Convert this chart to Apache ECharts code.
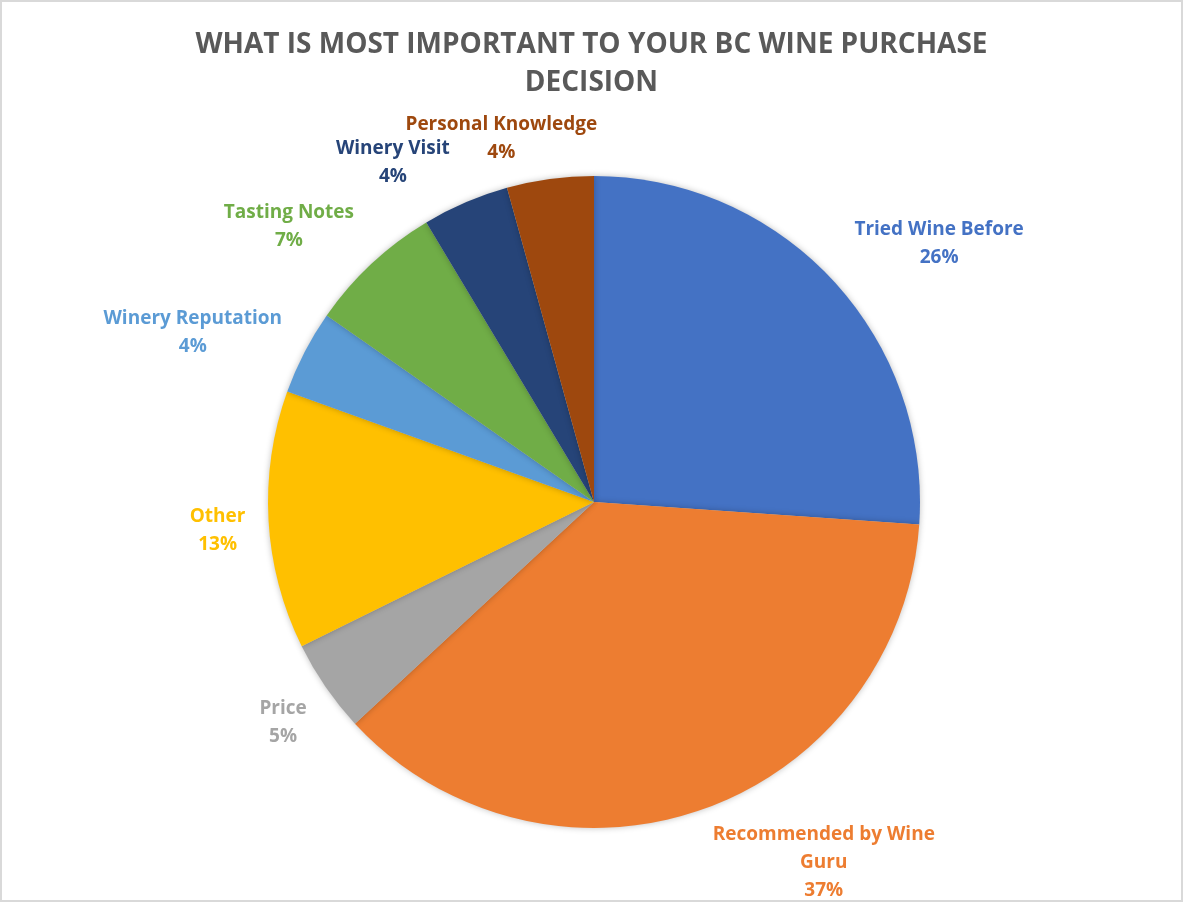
<!DOCTYPE html>
<html>
<head>
<meta charset="utf-8">
<script src="https://cdn.jsdelivr.net/npm/echarts@6/dist/echarts.min.js"></script>
<style>
html,body{margin:0;padding:0;background:#fff;}
#chart{width:1183px;height:902px;box-sizing:border-box;border:2px solid #d9d9d9;}
</style>
</head>
<body>
<div id="chart"></div>
<script>
/****
 * 数据
 */
var chartTitle = "WHAT IS MOST IMPORTANT TO YOUR BC WINE PURCHASE\nDECISION";
var categories = ["Tried Wine Before", "Recommended by Wine\nGuru", "Price", "Other",
	"Winery Reputation", "Tasting Notes", "Winery Visit", "Personal Knowledge"];
var shares = [26.1, 37.0, 4.6, 12.8, 4.2, 6.7, 4.3, 4.3];
var sliceColors = ["#4472C4", "#ED7D31", "#A5A5A5", "#FFC000",
	"#5B9BD5", "#70AD47", "#264478", "#9E480E"];

// 标签离饼边的距离 (px) 和微调偏移
var labelGap = [105, 85, 54, 52, 110, 86, 70, 50];
var labelShift = [[25, 36], [88, -27], [7, 5], [6, 7], [-9, 31], [-19, 26], [-40, 25], [-37, 9]];

function buildData(){
	var list = [];
	for (var i = 0; i < categories.length; i++) {
		list.push({
			name: categories[i],
			value: shares[i],
			itemStyle: { color: sliceColors[i] },
			label: { color: sliceColors[i] },
			labelLine: { length: labelGap[i], length2: 0 }
		});
	}
	return list;
}

var dom = document.getElementById("chart");
var pieChart = echarts.init(dom);
var option = {
	backgroundColor: "#fff",
	animation: false,
	title: {
		text: chartTitle,
		left: "center",
		top: 19,
		textStyle: {
			fontFamily: "Open Sans",
			fontWeight: "bold",
			fontSize: 28,
			lineHeight: 38,
			color: "#595959"
		}
	},
	series: [{
		type: "pie",
		center: [592, 500],
		radius: 326,
		startAngle: 90,
		clockwise: true,
		avoidLabelOverlap: false,
		minShowLabelAngle: 0,
		data: buildData(),
		itemStyle: {
			shadowBlur: 6,
			shadowColor: "rgba(0,0,0,0.25)"
		},
		label: {
			show: true,
			position: "outside",
			alignTo: "none",
			fontFamily: "Open Sans",
			fontWeight: "bold",
			fontSize: 19,
			lineHeight: 28,
			align: "center",
			formatter: function(p){
				return p.name + "\n" + Math.round(p.value) + "%";
			}
		},
		labelLine: { show: false },
		labelLayout: function(p){
			var s = labelShift[p.dataIndex];
			return { align: "center", dx: s[0], dy: s[1], hideOverlap: false };
		}
	}]
};
pieChart.setOption(option, true);
</script>
</body>
</html>
